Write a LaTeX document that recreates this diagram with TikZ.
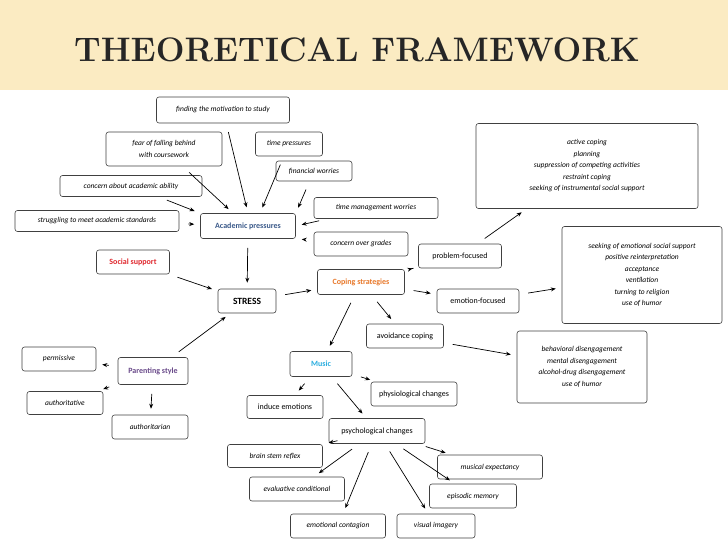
\documentclass[tikz,border=0pt]{standalone}
\usepackage{fontspec}
\setmainfont{Carlito}
\usetikzlibrary{arrows.meta,calc}
\definecolor{band}{HTML}{FBEBC2}
\definecolor{apblue}{HTML}{3B5A8A}
\definecolor{ssred}{HTML}{E0282E}
\definecolor{cporange}{HTML}{E8782A}
\definecolor{mucyan}{HTML}{2AAEE0}
\definecolor{pspurple}{HTML}{6A4A8A}
\tikzset{
 bx/.style={draw=black!75,rounded corners=2.5pt,line width=0.6pt,fill=white,inner sep=0pt,font=\fontsize{7.5}{11.5}\selectfont\itshape,align=center},
 cat/.style={bx,font=\fontsize{8}{9.5}\selectfont},
 ar/.style={-{Stealth[length=5pt,width=4pt]},line width=0.7pt,shorten >=6pt,shorten <=9pt}
}
\begin{document}
\begin{tikzpicture}[x=1pt,y=-1pt]
\useasboundingbox (0,0) rectangle (728,546);
\fill[band] (0,0) rectangle (728,90);
\node[text=black!85] (title) at (357,50) {\setmainfont{Latin Modern Roman}\fontsize{34}{34}\selectfont\bfseries THEORETICAL FRAMEWORK};
\newcommand\bxx[6]{\node[#1,minimum width=#4,minimum height=#5] (#2) at (#3) {#6};}
\bxx{bx}{fm}{223,110}{133pt}{26pt}{finding the motivation to study}
\bxx{bx}{ff}{164,149}{116pt}{34pt}{fear of falling behind\\with coursework}
\bxx{bx}{tp}{289,144}{67pt}{24pt}{time pressures}
\bxx{bx}{fw}{314,171}{76pt}{20pt}{financial worries}
\bxx{bx}{ca}{131,186}{142pt}{21pt}{concern about academic ability}
\bxx{bx}{tm}{376,208}{124pt}{21pt}{time management worries}
\bxx{bx}{sm}{97,221}{164pt}{21pt}{struggling to meet academic standards}
\bxx{cat}{ap}{248,226}{95pt}{25pt}{\textcolor{apblue}{\bfseries Academic pressures}}
\bxx{bx}{cg}{361,244}{94pt}{24pt}{concern over grades}
\bxx{cat}{ss}{133,262}{73pt}{24pt}{\textcolor{ssred}{\bfseries Social support}}
\bxx{cat}{st}{247,301}{58pt}{24pt}{\fontsize{9.5}{10}\selectfont\bfseries STRESS}
\bxx{cat}{cs}{361,282}{87pt}{25pt}{\textcolor{cporange}{\bfseries Coping strategies}}
\bxx{cat}{pf}{460,256}{83pt}{24pt}{problem-focused}
\bxx{cat}{ef}{478,301}{82pt}{24pt}{emotion-focused}
\bxx{cat}{av}{405,336}{77pt}{24pt}{avoidance coping}
\bxx{bx}{ac}{587,166}{222pt}{85pt}{active coping\\planning\\suppression of competing activities\\restraint coping\\seeking of instrumental social support}
\bxx{bx}{se}{642,275}{160pt}{97pt}{seeking of emotional social support\\positive reinterpretation\\acceptance\\ventilation\\turning to religion\\use of humor}
\bxx{bx}{bd}{582,367}{130pt}{72pt}{behavioral disengagement\\mental disengagement\\alcohol-drug disengagement\\use of humor}
\bxx{cat}{mu}{321,364}{62pt}{25pt}{\textcolor{mucyan}{\bfseries Music}}
\bxx{cat}{ps}{153,371}{70pt}{27pt}{\textcolor{pspurple}{\bfseries Parenting style}}
\bxx{bx}{pe}{59,359}{74pt}{24pt}{permissive}
\bxx{bx}{au}{65,403}{76pt}{23pt}{authoritative}
\bxx{bx}{an}{150,427}{76pt}{24pt}{authoritarian}
\bxx{cat}{ph}{414,394}{86pt}{24pt}{physiological changes}
\bxx{cat}{ie}{285,407}{76pt}{23pt}{induce emotions}
\bxx{cat}{pc}{377,431}{96pt}{25pt}{psychological changes}
\bxx{bx}{bs}{275,456}{95pt}{23pt}{brain stem reflex}
\bxx{bx}{ec}{297,489}{95pt}{24pt}{evaluative conditional}
\bxx{bx}{me}{490,467}{105pt}{24pt}{musical expectancy}
\bxx{bx}{em}{473,496}{87pt}{24pt}{episodic memory}
\bxx{bx}{eg}{338,526}{95pt}{24pt}{emotional contagion}
\bxx{bx}{vi}{436,526}{78pt}{24pt}{visual imagery}
\coordinate (apn1) at ($(ap.north)+(-15,0)$);
\coordinate (apn2) at ($(ap.north)+(12,0)$);
\draw[ar] (fm) -- (ap.north);
\draw[ar] (ff) -- (apn1);
\draw[ar] (tp) -- (apn2);
\draw[ar] (fw) -- (ap.north east);
\draw[ar] (ca) -- (ap.north west);
\draw[ar] (tm) -- (ap.east);
\draw[ar] (sm) -- (ap);
\draw[ar] (cg) -- (ap.south east);
\draw[ar] (ap) -- (st);
\draw[ar] (ss) -- (st);
\draw[ar] (ps) -- (st);
\draw[ar] (st) -- (cs);
\draw[ar] (cs) -- (pf);
\draw[ar] (cs) -- (ef);
\draw[ar] (cs) -- (av);
\draw[ar] (cs) -- (mu);
\draw[ar] (pf) -- (ac);
\draw[ar] (ef) -- (se);
\draw[ar] (av) -- (bd);
\draw[ar] (ps) -- (pe);
\draw[ar] (ps) -- (au);
\draw[ar] (ps) -- (an);
\draw[ar] (mu) -- (ie);
\draw[ar] (mu) -- (ph);
\draw[ar] (mu) -- (pc);
\draw[ar] (pc) -- (bs);
\draw[ar] (pc) -- (ec);
\draw[ar] (pc) -- (eg);
\draw[ar] (pc) -- (vi);
\draw[ar] (pc) -- (em);
\draw[ar] (pc) -- (me);
\end{tikzpicture}
\end{document}
